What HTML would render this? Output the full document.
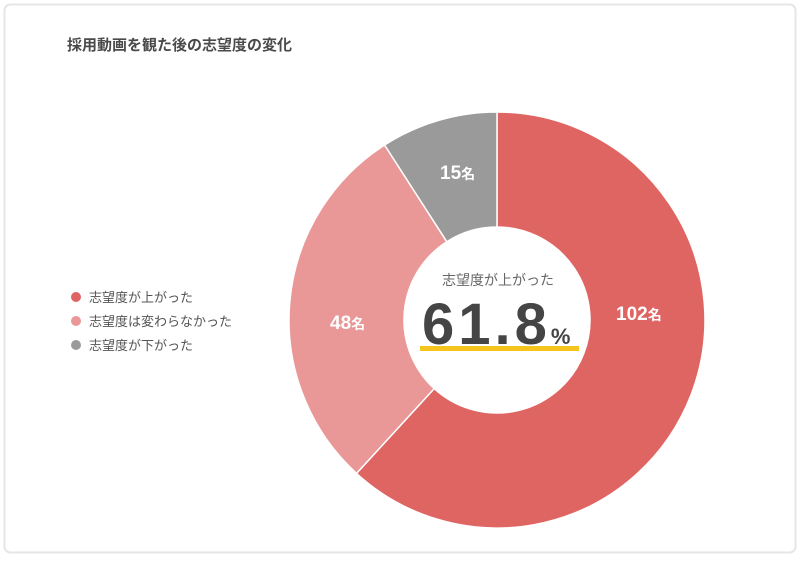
<!DOCTYPE html>
<html><head><meta charset="utf-8"><style>
html,body{margin:0;padding:0;background:#fff;}
body{width:800px;height:557px;overflow:hidden;font-family:"Liberation Sans","Noto Sans CJK JP",sans-serif;}
</style></head><body>
<svg width="800" height="557" viewBox="0 0 800 557" xmlns="http://www.w3.org/2000/svg" font-family="Liberation Sans, Noto Sans CJK JP, sans-serif">
<rect x="4.5" y="4.5" width="791" height="548" rx="6" fill="#fff" stroke="#e6e6e6" stroke-width="2"/>
<text x="67" y="50" font-size="15" font-weight="bold" fill="#4a4a4a">採用動画を観た後の志望度の変化</text>
<path d="M497,112 A208,208 0 1 1 356.5,473.4 L434.2,388.6 A93,93 0 1 0 497,227 Z" fill="#df6563" stroke="#fff" stroke-width="1.5"/>
<path d="M356.5,473.4 A208,208 0 0 1 384.6,145 L446.8,241.7 A93,93 0 0 0 434.2,388.6 Z" fill="#e99797" stroke="#fff" stroke-width="1.5"/>
<path d="M384.6,145 A208,208 0 0 1 497,112 L497,227 A93,93 0 0 0 446.8,241.7 Z" fill="#9a9a9a" stroke="#fff" stroke-width="1.5"/>
<text x="616" y="320" font-size="19" font-weight="bold" fill="#fff">102<tspan font-size="14">名</tspan></text>
<text x="330" y="329" font-size="19" font-weight="bold" fill="#fff">48<tspan font-size="14">名</tspan></text>
<text x="440" y="179" font-size="19" font-weight="bold" fill="#fff">15<tspan font-size="14">名</tspan></text>
<text x="498" y="285" font-size="14" fill="#666" text-anchor="middle">志望度が上がった</text>
<rect x="420" y="346" width="159" height="5" fill="#f6c51d"/>
<text x="422" y="344" font-size="58" font-weight="bold" fill="#454545" letter-spacing="4">61.8<tspan font-size="22" dx="0" letter-spacing="0">%</tspan></text>
<circle cx="76" cy="297" r="5" fill="#df6563"/>
<circle cx="76" cy="321" r="5" fill="#e99797"/>
<circle cx="76" cy="345" r="5" fill="#9a9a9a"/>
<text x="89" y="302" font-size="13" fill="#555">志望度が上がった</text>
<text x="89" y="326" font-size="13" fill="#555">志望度は変わらなかった</text>
<text x="89" y="350" font-size="13" fill="#555">志望度が下がった</text>
</svg>
</body></html>
